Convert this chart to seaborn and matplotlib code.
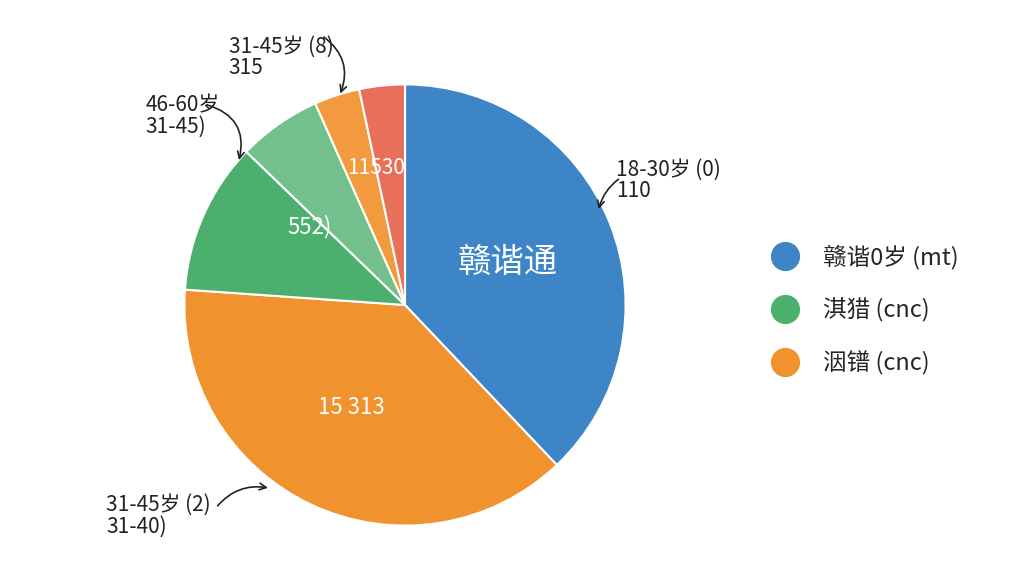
import matplotlib
matplotlib.use("Agg")
import matplotlib.pyplot as plt
from matplotlib.lines import Line2D
import seaborn as sns

sns.set_theme(style="white")
plt.rcParams['font.family'] = ['Noto Sans CJK SC', 'DejaVu Sans']

slice_values = [136.5, 137.5, 40, 22, 12, 12]
slice_colors = ["#3d85c6", "#f0922e", "#4caf6e", "#74c08c", "#f39a3e", "#e8705a"]
inner_labels = ["赣谐通", "15 313", "552)", "11530"]
legend_labels = ["赣谐0岁 (mt)", "淇猎 (cnc)", "洇镨 (cnc)"]
legend_colors = ["#3d85c6", "#4caf6e", "#f0922e"]

fig = plt.figure(figsize=(10.24, 5.76), dpi=100)
ax = fig.add_axes([180/1024, (271-225)/576, 450/1024, 450/576])
ax.pie(slice_values, colors=slice_colors, startangle=90, counterclock=False,
       radius=1, wedgeprops=dict(edgecolor="white", linewidth=1.5))
ax.set_xlim(-1.02, 1.02); ax.set_ylim(-1.02, 1.02)
ax.set_aspect("equal"); ax.axis("off")

def P(px, py):
    return ((px-405)/225, (305-py)/225)

for txt, pos, sz in zip(inner_labels, [(510, 262), (350, 410), (308, 225), (375, 165)], [24, 16, 16, 15]):
    ax.text(*P(*pos), txt, color="white", fontsize=sz, ha="center", va="center")

outer = [("31-45岁 (8)\n315", (225, 52), (320, 30), (338, 92), -0.4),
         ("46-60岁\n31-45)", (140, 112), (200, 100), (235, 160), -0.5),
         ("18-30岁 (0)\n110", (620, 178), (625, 175), (602, 210), 0.2),
         ("31-45岁 (2)\n31-40)", (100, 520), (212, 512), (268, 492), -0.3)]
for txt, tpos, a0, a1, rad in outer:
    ax.text(*P(*tpos), txt, fontsize=15, ha="left", va="center", color="#222222", linespacing=0.95,
            clip_on=False)
    ax.annotate("", xy=P(*a1), xytext=P(*a0),
                arrowprops=dict(arrowstyle="->", color="#222222", lw=1.2,
                                connectionstyle=f"arc3,rad={rad}"), annotation_clip=False)

handles = [Line2D([0], [0], marker="o", linestyle="", markersize=20, markerfacecolor=c,
                  markeredgecolor=c) for c in legend_colors]
fig.legend(handles, legend_labels, loc="center left", bbox_to_anchor=(740/1024, 1-310/576),
           frameon=False, fontsize=17, labelspacing=1.2, handletextpad=0.6)

fig.savefig("out.png", dpi=100)
